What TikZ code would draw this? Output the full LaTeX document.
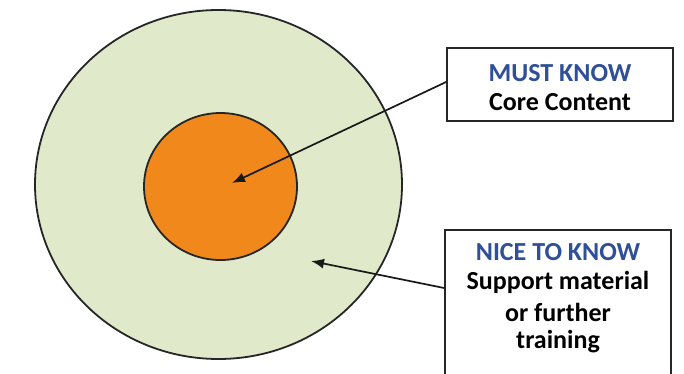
\documentclass[tikz,border=0pt]{standalone}
\usepackage{fontspec}
\setmainfont{Carlito}
\usetikzlibrary{shapes.geometric,arrows.meta}
\definecolor{outerfill}{HTML}{E0EACB}
\definecolor{innerfill}{HTML}{F0881C}
\definecolor{headblue}{HTML}{2F4F98}
\tikzset{
  ring/.style={ellipse, draw=black!85, line width=1.8pt, inner sep=0pt},
  labelbox/.style={rectangle, draw=black!85, line width=1.8pt, fill=white, inner sep=0pt},
  headtxt/.style={font=\bfseries\fontsize{26}{30}\selectfont, text=headblue},
  bodytxt/.style={font=\bfseries\fontsize{26}{30}\selectfont, text=black},
  pointer/.style={draw=black!90, line width=1.7pt, -{Latex[length=13pt,width=10pt]}}
}
\begin{document}
\begin{tikzpicture}[x=1pt,y=1pt]
\useasboundingbox (0,0) rectangle (684,373);
\fill[white] (0,0) rectangle (684,373);
\begin{scope}
\clip (0,0) rectangle (684,373);
% outer ring
\node[ring, fill=outerfill, minimum width=367pt, minimum height=349pt] (outer) at (218.5,188.5) {};
% inner core
\node[ring, fill=innerfill, minimum width=153pt, minimum height=147pt] (inner) at (220.5,186.5) {};
% boxes
\node[labelbox, minimum width=226pt, minimum height=73pt] (b1) at (560,288.5) {};
\node[labelbox, minimum width=226pt, minimum height=148pt] (b2) at (558,69) {};
\node[headtxt] (t1) at (560,300) {MUST KNOW};
\node[bodytxt] (t2) at (560,271) {Core Content};
\node[headtxt] (t3) at (558,121) {NICE TO KNOW};
\node[bodytxt] (t4) at (558,91) {Support material};
\node[bodytxt] (t5) at (558,61) {or further};
\node[bodytxt] (t6) at (558,31) {training};
% arrows
\coordinate (tip1) at (232,190);
\coordinate (tip2) at (311,112);
\draw[pointer] ([yshift=2.5pt]b1.west) -- (tip1);
\draw[pointer] ([yshift=16pt]b2.west) -- (tip2);
\end{scope}
\end{tikzpicture}
\end{document}
